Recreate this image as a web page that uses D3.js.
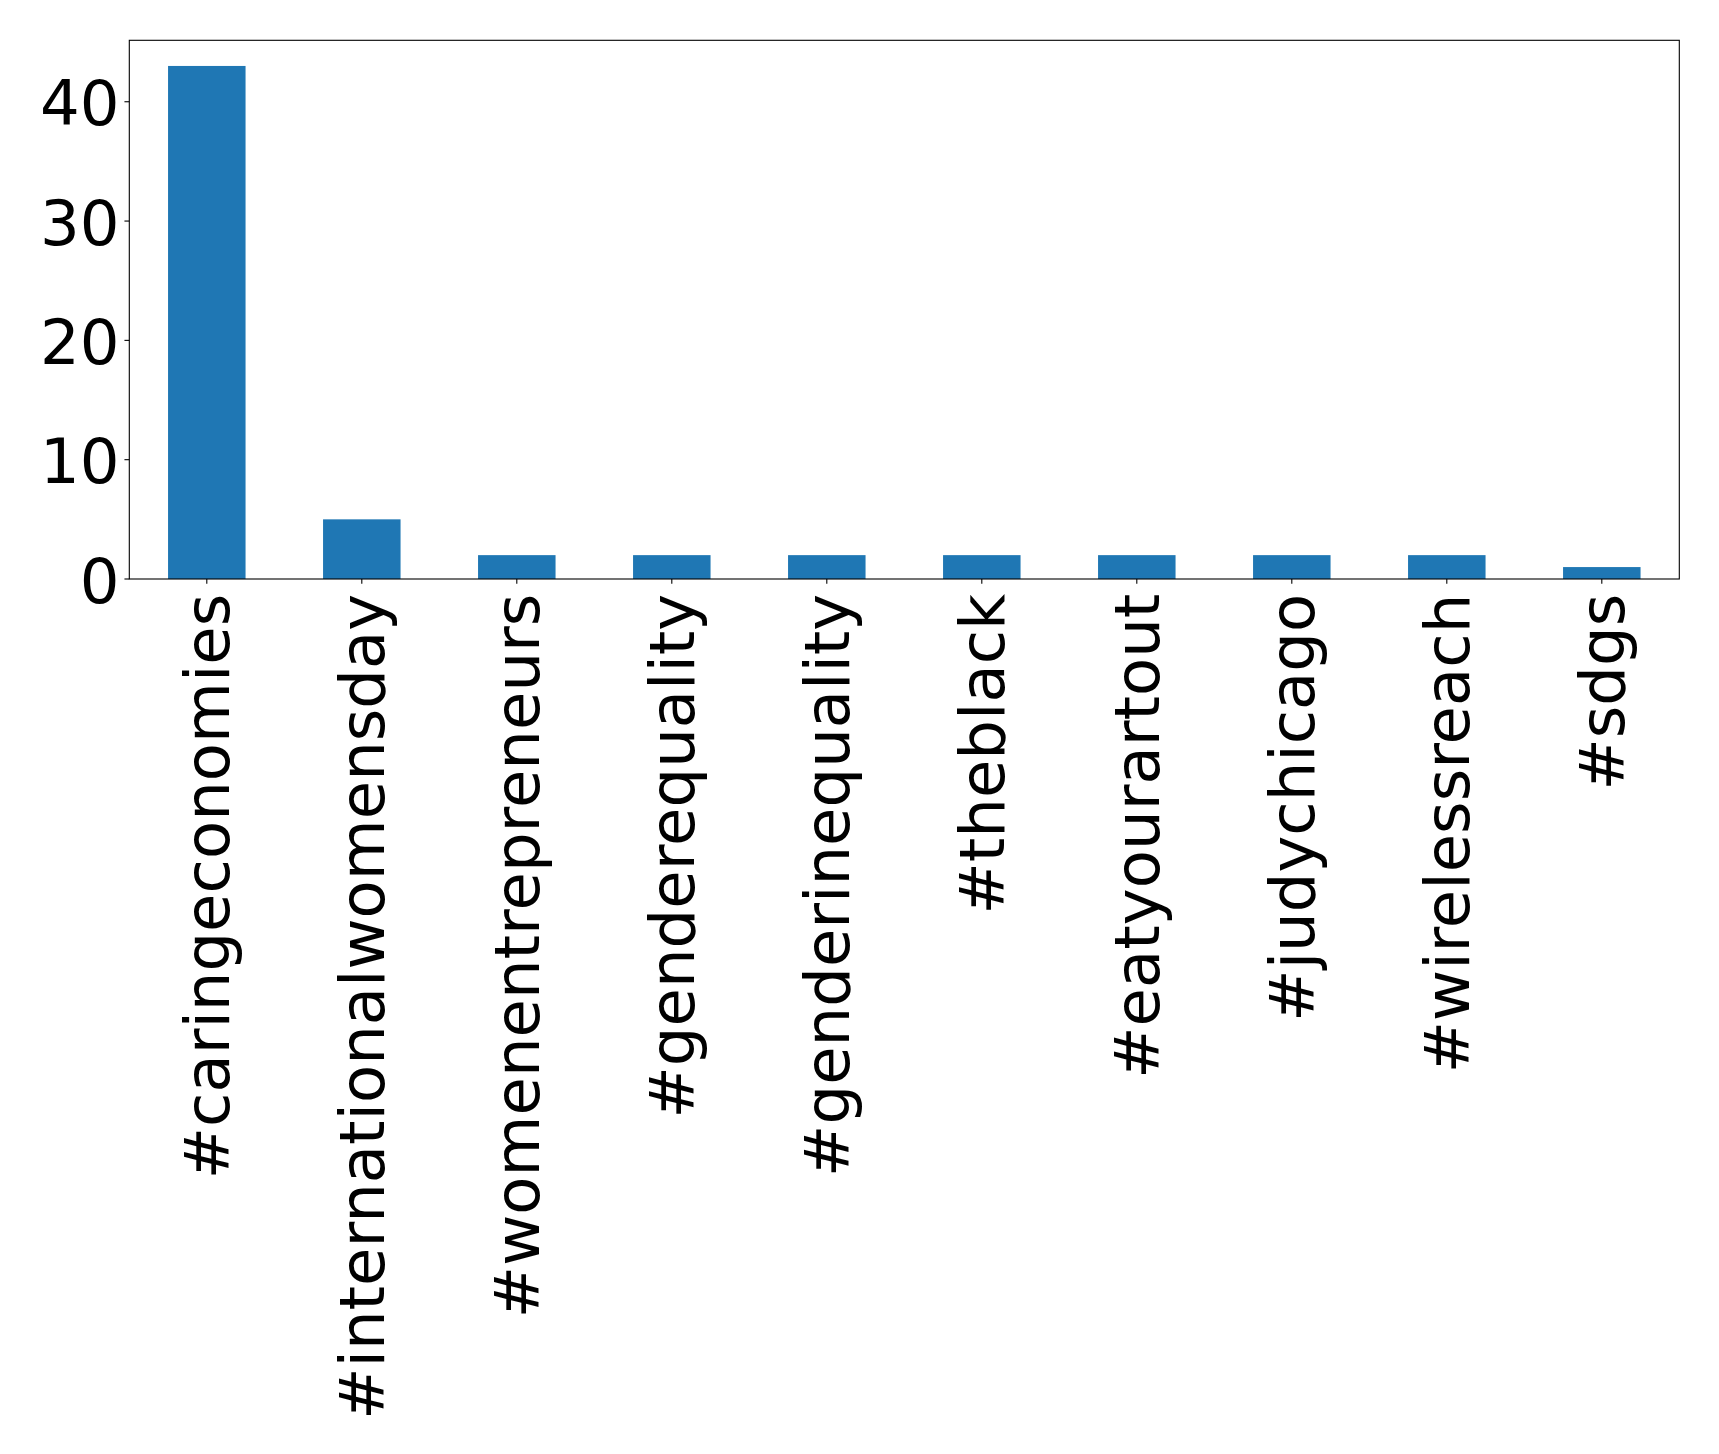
<!DOCTYPE html>
<html>
<head>
<meta charset="utf-8">
<script src="https://cdn.jsdelivr.net/npm/d3@7"></script>
<style>
  html, body { margin: 0; padding: 0; background: #fff; }
  svg { display: block; }
  text { font-family: "DejaVu Sans", sans-serif; fill: #000; }
</style>
</head>
<body>
<script>
const categories = ["#caringeconomies", "#internationalwomensday", "#womenentrepreneurs",
  "#genderequality", "#genderinequality", "#theblack", "#eatyourartout",
  "#judychicago", "#wirelessreach", "#sdgs"];
const values = [43, 5, 2, 2, 2, 2, 2, 2, 2, 1];
const yTicks = [0, 10, 20, 30, 40];

const W = 1719, H = 1454;
const L = 129.3, R = 1679.3, T = 40.3, B = 579;
const fontPx = 62.5;
const tickLen = 4.86, pad = 4.86;

const svg = d3.select("body").append("svg").attr("width", W).attr("height", H);

const x = d3.scaleLinear().domain([-0.5, categories.length - 0.5]).range([L, R]);
const y = d3.scaleLinear().domain([0, d3.max(values) * 1.05]).range([B, T]);

// bars
svg.append("g").selectAll("rect").data(values).join("rect")
  .attr("x", (d, i) => x(i - 0.25))
  .attr("width", (d, i) => x(i + 0.25) - x(i - 0.25))
  .attr("y", d => y(d))
  .attr("height", d => y(0) - y(d))
  .attr("fill", "#1f77b4");

// frame
svg.append("rect").attr("x", L).attr("y", T).attr("width", R - L).attr("height", B - T)
  .attr("fill", "none").attr("stroke", "#000").attr("stroke-width", 1.1);

// y axis
const yAxis = svg.append("g");
yAxis.selectAll("line").data(yTicks).join("line")
  .attr("x1", L - tickLen).attr("x2", L)
  .attr("y1", d => y(d)).attr("y2", d => y(d))
  .attr("stroke", "#000").attr("stroke-width", 1.1);
yAxis.selectAll("text").data(yTicks).join("text")
  .attr("x", L - tickLen - pad)
  .attr("y", d => y(d))
  .attr("dy", "0.38em")
  .attr("text-anchor", "end")
  .style("font-size", fontPx + "px")
  .text(d => d);

// x axis
const xAxis = svg.append("g");
xAxis.selectAll("line").data(categories).join("line")
  .attr("x1", (d, i) => x(i)).attr("x2", (d, i) => x(i))
  .attr("y1", B).attr("y2", B + tickLen)
  .attr("stroke", "#000").attr("stroke-width", 1.1);
xAxis.selectAll("text").data(categories).join("text")
  .attr("transform", (d, i) => `translate(${x(i)},${B + tickLen + pad + 5}) rotate(-90)`)
  .attr("dy", "0.35em")
  .attr("text-anchor", "end")
  .style("font-size", fontPx + "px")
  .text(d => d);
</script>
</body>
</html>
